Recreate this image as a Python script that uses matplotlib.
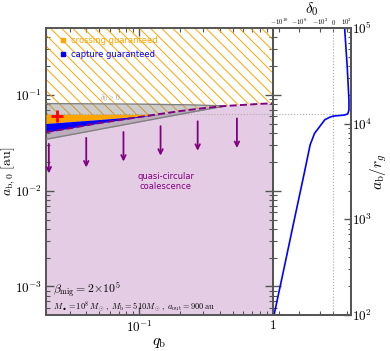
import numpy as np
import matplotlib
matplotlib.use("Agg")
import matplotlib.pyplot as plt
from matplotlib.lines import Line2D
from matplotlib.ticker import FuncFormatter, FixedLocator

plt.rcParams["mathtext.fontset"] = "cm"
plt.rcParams["hatch.linewidth"] = 0.7

# gravitational radius of M_b = 510 Msun, in au
r_g_au = 5.03e-6
a_lo, a_hi = 1e2 * r_g_au, 1e5 * r_g_au
a_dot = 0.063  # horizontal dotted line (au)

# boundary of the quasi-circular region (dashed purple)
q_dash = [0.02, 0.03, 0.05, 0.1, 0.2, 0.3, 0.44, 0.6, 0.8, 1.0]
a_dash = [0.041, 0.045, 0.051, 0.059, 0.068, 0.073, 0.077, 0.079, 0.081, 0.082]

# grey wedge
q_gray = [0.02, 0.1, 0.25, 0.44]
a_gray_top = [0.0815, 0.0805, 0.079, 0.077]
a_gray_bot = [0.0345, 0.0525, 0.0667, 0.077]

# capture (blue) band and crossing (orange) band
q_band = [0.02, 0.05, 0.1, 0.151]
a_blue_top = [0.0505, 0.0555, 0.060, 0.0636]
a_blue_bot = [0.041, 0.051, 0.059, 0.0636]

# arrows
q_arrow = [0.021, 0.040, 0.076, 0.144, 0.273, 0.537]
a_arrow_start = [0.0331, 0.0382, 0.044, 0.0506, 0.0569, 0.061]
a_arrow_end = [0.0142, 0.0164, 0.0189, 0.0218, 0.0245, 0.0262]

# red plus
q_plus, a_plus = 0.024, 0.061

# right panel: delta_0 vs a_b / r_g
a_rg = [100, 300, 1000, 3000, 6000, 7900, 9700, 1.1e4, 1.17e4, 1.2e4, 1.215e4,
        1.23e4, 1.27e4, 1.39e4, 1.77e4, 3.9e4, 1e5]
delta0 = [-1e11, -1.2e9, -1e7, -1.2e5, -8e3, -1.1e3, -60, -10, -1, 0, 3,
          35, 150, 250, 250, 115, 35]

delta_ticks = [-1e10, -1e6, -1e2, 0, 1e2]
delta_labels = [r"$-10^{10}$", r"$-10^{6}$", r"$-10^{2}$", r"$0$", r"$10^{2}$"]

spine_col = "#555555"

fig = plt.figure(figsize=(3.9, 3.51), dpi=100)
ax = fig.add_axes([0.118, 0.1026, 0.582, 0.8177])
ax2 = fig.add_axes([0.700, 0.1026, 0.200, 0.8177], sharey=ax)

ax.set_xscale("log")
ax.set_yscale("log")
ax.set_xlim(0.02, 1)
ax.set_ylim(a_lo, a_hi)

# regions
ax.fill_between(q_dash, a_lo, a_dash, color="purple", alpha=0.2, lw=0, zorder=1)
ax.fill_between(q_dash, a_dash, a_hi, facecolor="none", edgecolor="orange",
                hatch="\\\\\\", lw=0, zorder=2)
ax.fill_between(q_gray, a_gray_bot, a_gray_top, color="gray", alpha=0.4, lw=0, zorder=2)
ax.plot(q_gray, a_gray_top, color="gray", lw=1, zorder=3)
ax.plot(q_gray, a_gray_bot, color="gray", lw=1, zorder=3)
ax.fill_between(q_band, a_blue_top, a_dot, color="orange", lw=0, zorder=4)
ax.fill_between(q_band, a_blue_bot, a_blue_top, color="blue", lw=0, zorder=4)
ax.plot(q_dash, a_dash, color="purple", ls="--", lw=1.4, zorder=5)
ax.axhline(a_dot, color="#aaaaaa", ls=":", lw=0.8, zorder=1.5)
ax.plot(q_plus, a_plus, marker="+", color="red", ms=9, mew=2, zorder=6)

for q, s, e in zip(q_arrow, a_arrow_start, a_arrow_end):
    ax.annotate("", xy=(q, e), xytext=(q, s),
                arrowprops=dict(arrowstyle="->", color="purple", lw=1.3,
                                mutation_scale=8), zorder=6)

ax.text(0.157, 0.0125, "quasi-circular\ncoalescence", color="purple",
        fontsize=6, ha="center", va="center", linespacing=1.2)
ax.text(0.0605, 0.093, r"$\delta_0>0$", color="#999999", fontsize=5.5,
        ha="center", va="center", zorder=6)
ax.text(0.03, 0.087, r"$\beta_{\rm mig}=2\!\times\!10^5$", transform=ax.transAxes,
        fontsize=8.5, va="center", ha="left")
ax.text(0.03, 0.03,
        r"$M_\bullet=10^8\,M_\odot\,,\;M_{\rm b}=510M_\odot\,,\;a_{\rm out}=900\,{\rm au}$",
        transform=ax.transAxes, fontsize=6, va="center", ha="left")

handles = [Line2D([], [], ls="none", marker="s", color="orange", ms=3.5),
           Line2D([], [], ls="none", marker="s", color="blue", ms=3.5)]
ax.legend(handles, ["crossing guaranteed", "capture guaranteed"], loc="upper left",
          bbox_to_anchor=(0.02, 0.997), frameon=False, fontsize=6,
          labelcolor=["orange", "blue"], handletextpad=0.4, handlelength=1.2,
          labelspacing=0.5)

ax.set_xlabel(r"$q_{\rm b}$", fontsize=11, labelpad=0)
ax.set_ylabel(r"$a_{{\rm b},0}\ [{\rm au}]$", fontsize=10, labelpad=-2)

logfmt = FuncFormatter(lambda v, p: "$1$" if abs(v - 1) < 1e-9 else r"$10^{%d}$" % round(np.log10(v)))
ax.xaxis.set_major_formatter(logfmt)
ax.yaxis.set_major_formatter(logfmt)
ax.tick_params(which="both", direction="in", top=True, right=True, colors=spine_col,
               labelcolor="black", labelsize=9.5, pad=3)
ax.tick_params(which="major", length=6, width=1)
ax.tick_params(which="minor", length=3, width=0.8)
for s in ax.spines.values():
    s.set_color(spine_col)
    s.set_linewidth(1.4)

# right panel
ax2.set_xscale("symlog", linthresh=1, linscale=0.6)
ax2.set_xlim(-1.6e11, 6.3e2)
ax2.axhline(a_dot, color="#aaaaaa", ls=":", lw=0.8)
ax2.axvline(0, color="#aaaaaa", ls=":", lw=0.8)
ax2.xaxis.set_major_locator(FixedLocator(delta_ticks))
ax2.xaxis.set_minor_locator(FixedLocator([]))
ax2.set_xticklabels(delta_labels)
ax2.tick_params(axis="x", which="both", direction="in", top=True, bottom=True,
                labeltop=True, labelbottom=False, labelsize=4.8, pad=1,
                length=3, colors=spine_col, labelcolor="black")
ax2.set_xlabel(r"$\delta_0$", fontsize=11, labelpad=2)
ax2.xaxis.set_label_position("top")
ax2.tick_params(axis="y", which="both", direction="in", left=True, right=False,
                labelleft=False, colors=spine_col)
ax2.tick_params(axis="y", which="major", length=6, width=1)
ax2.tick_params(axis="y", which="minor", length=3, width=0.8)

ax3 = ax2.twinx()
ax3.set_yscale("log")
ax3.set_ylim(1e2, 1e5)
ax3.plot(delta0, a_rg, color="blue", lw=1.2)
ax3.yaxis.set_major_formatter(logfmt)
ax3.tick_params(which="both", direction="in", colors=spine_col, labelcolor="black",
                labelsize=9.5, pad=1)
ax3.tick_params(which="major", length=5, width=1)
ax3.tick_params(which="minor", length=2.5, width=0.8)
ax3.set_ylabel(r"$a_{\rm b}/r_g$", fontsize=11, labelpad=-3)
for a in (ax2, ax3):
    for s in a.spines.values():
        s.set_color(spine_col)
        s.set_linewidth(1.4)

fig.savefig("out.png", dpi=100)
